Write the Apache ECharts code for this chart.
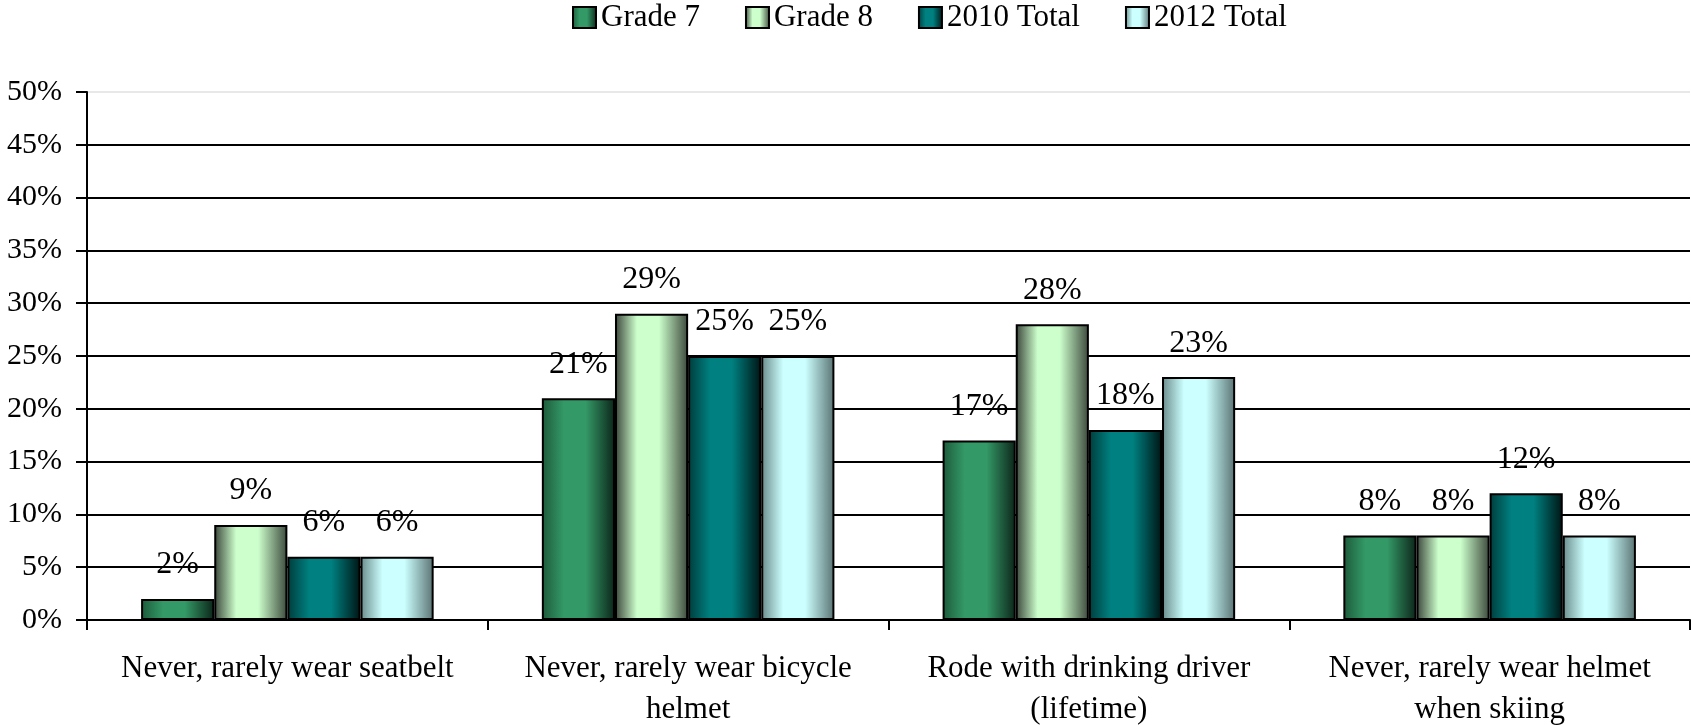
<!DOCTYPE html>
<html>
<head>
<meta charset="utf-8">
<script src="https://cdn.jsdelivr.net/npm/echarts@6/dist/echarts.min.js"></script>
<style>
	html, body { margin: 0; padding: 0; background: #ffffff; }
	#chart { width: 1691px; height: 725px; }
</style>
</head>
<body>
<div id="chart"></div>
<script>
var categories = [ 'Never, rarely wear seatbelt', 'Never, rarely wear bicycle\nhelmet',
	'Rode with drinking driver\n(lifetime)', 'Never, rarely wear helmet\nwhen skiing' ];
var seriesNames = [ 'Grade 7', 'Grade 8', '2010 Total', '2012 Total' ];
var grade7 = [ 2, 21, 17, 8 ];
var grade8 = [ 9, 29, 28, 8 ];
var total2010 = [ 6, 25, 18, 12 ];
var total2012 = [ 6, 25, 23, 8 ];
var yTicks = [ 0, 5, 10, 15, 20, 25, 30, 35, 40, 45, 50 ];

var font = "'Liberation Serif', 'Times New Roman', serif";

// left edge, centre, right edge of each bar's shading
var shades = [
	[ '#1d5a3b', '#339966', '#0c2419' ],
	[ '#3a443a', '#ccffcc', '#3c483c' ],
	[ '#003c3c', '#008080', '#001414' ],
	[ '#6a8a8a', '#ccffff', '#5a7272' ]
];

function barGradient(s) {
	return new echarts.graphic.LinearGradient(0, 0, 1, 0, [
		{ offset : 0, color : s[0] },
		{ offset : 0.3, color : s[1] },
		{ offset : 0.6, color : s[1] },
		{ offset : 1, color : s[2] }
	]);
}

function makeSeries(i, values) {
	return {
		name : seriesNames[i],
		type : 'bar',
		data : values,
		barGap : '0%',
		barCategoryGap : '27%',
		itemStyle : {
			color : barGradient(shades[i]),
			borderColor : '#000000',
			borderWidth : 2
		},
		label : {
			show : true,
			position : 'top',
			distance : 18,
			formatter : '{c}%',
			fontFamily : font,
			fontSize : 32,
			color : '#000000'
		}
	};
}

var splitColors = yTicks.map(function(v) {
	return v === 50 ? '#e8e8e8' : '#000000';
});

var option = {
	animation : false,
	backgroundColor : '#ffffff',
	legend : {
		data : seriesNames,
		left : 572,
		top : 2,
		padding : 0,
		icon : 'rect',
		itemWidth : 23,
		itemHeight : 21,
		itemGap : 45,
		textStyle : {
			fontFamily : font,
			fontSize : 31,
			color : '#000000'
		},
		itemStyle : {
			borderColor : '#000000',
			borderWidth : 2
		}
	},
	grid : {
		left : 87,
		right : 1,
		top : 92,
		bottom : 105,
		containLabel : false,
		outerBoundsMode : 'none'
	},
	xAxis : {
		type : 'category',
		data : categories,
		axisLine : { lineStyle : { color : '#000000', width : 2 } },
		axisTick : {
			show : true,
			alignWithLabel : false,
			length : 10,
			lineStyle : { color : '#000000', width : 2 }
		},
		axisLabel : {
			interval : 0,
			margin : 28,
			fontFamily : font,
			fontSize : 31,
			lineHeight : 41,
			color : '#000000'
		}
	},
	yAxis : {
		type : 'value',
		min : 0,
		max : 50,
		interval : 5,
		axisLine : { show : true, lineStyle : { color : '#000000', width : 2 } },
		axisTick : {
			show : true,
			length : 11,
			lineStyle : { color : '#000000', width : 2 }
		},
		axisLabel : {
			formatter : '{value}%',
			margin : 25,
			fontFamily : font,
			fontSize : 30,
			color : '#000000'
		},
		splitLine : {
			show : true,
			lineStyle : { color : splitColors, width : 2 }
		}
	},
	series : [
		makeSeries(0, grade7),
		makeSeries(1, grade8),
		makeSeries(2, total2010),
		makeSeries(3, total2012)
	]
};

var graph = echarts.init(document.getElementById('chart'));
graph.setOption(option);
</script>
</body>
</html>
